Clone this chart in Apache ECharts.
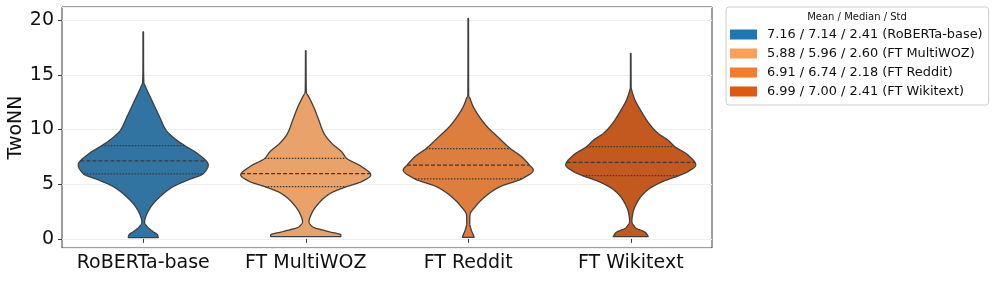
<!DOCTYPE html>
<html>
<head>
<meta charset="utf-8">
<script src="https://cdn.jsdelivr.net/npm/echarts@6/dist/echarts.min.js"></script>
<style>
html,body{margin:0;padding:0;background:#fff;}
#chart{width:996px;height:283px;}
</style>
</head>
<body>
<div id="chart"></div>
<script>
// ---- data ----
const categories = ['RoBERTa-base', 'FT MultiWOZ', 'FT Reddit', 'FT Wikitext'];
const legendNames = [
  '7.16 / 7.14 / 2.41 (RoBERTa-base)',
  '5.88 / 5.96 / 2.60 (FT MultiWOZ)',
  '6.91 / 6.74 / 2.18 (FT Reddit)',
  '6.99 / 7.00 / 2.41 (FT Wikitext)'
];
const legendTitle = 'Mean / Median / Std';
const yTicks = [0, 5, 10, 15, 20];

// violin density profiles (value on y, relative half width 0..1)
const robertaY = [0.12, 0.37, 0.67, 1.12, 1.55, 2.05, 2.96, 3.87, 4.78, 5.39, 5.95, 6.76, 7.82, 8.52, 9.19, 9.95, 11.17, 12.69, 13.91, 14.3, 15.5, 18.93];
const robertaW = [0.23, 0.22, 0.15, 0.06, 0.02, 0.04, 0.12, 0.26, 0.46, 0.69, 0.92, 1.0, 0.83, 0.64, 0.48, 0.35, 0.25, 0.13, 0.035, 0.01, 0.005, 0.004];
const multiwozY = [0.21, 0.37, 0.67, 1.13, 1.58, 2.34, 3.26, 4.17, 4.78, 5.24, 5.85, 6.61, 7.37, 7.98, 8.74, 9.65, 10.87, 12.09, 13.0, 13.46, 17.2];
const multiwozW = [0.54, 0.54, 0.35, 0.1, 0.05, 0.092, 0.2, 0.38, 0.63, 0.86, 1.0, 0.86, 0.63, 0.55, 0.4, 0.28, 0.2, 0.12, 0.046, 0.008, 0.004];
const redditY = [0.15, 0.37, 0.82, 1.43, 2.19, 2.96, 3.87, 4.78, 5.48, 6.30, 6.76, 7.52, 8.25, 9.35, 10.26, 11.18, 12.09, 12.85, 13.15, 20.15];
const redditW = [0.09, 0.077, 0.046, 0.023, 0.026, 0.11, 0.26, 0.49, 0.82, 1.0, 0.94, 0.82, 0.65, 0.45, 0.29, 0.17, 0.077, 0.026, 0.006, 0.004];
const wikitextY = [0.21, 0.57, 1.03, 1.64, 2.39, 3.56, 4.48, 5.24, 5.78, 6.15, 6.76, 7.67, 8.43, 9.04, 9.65, 10.56, 11.78, 12.69, 13.6, 13.9, 16.96];
const wikitextW = [0.27, 0.23, 0.072, 0.018, 0.034, 0.12, 0.26, 0.49, 0.74, 0.88, 1.0, 0.88, 0.68, 0.57, 0.42, 0.28, 0.15, 0.066, 0.015, 0.006, 0.004];

const q1Values = [5.94, 4.78, 5.48, 5.78];
const medianValues = [7.14, 5.96, 6.74, 7.00];
const q3Values = [8.52, 7.37, 8.25, 8.43];

// ---- styles ----
const legendColors = ['#1f77b4', '#fd9f57', '#f87b2a', '#df580e'];
const violinColors = ['#3274a1', '#e8a26a', '#dd7d3e', '#c3591f'];
const FONT = 'DejaVu Sans';

const profiles = [
  {y: robertaY, w: robertaW},
  {y: multiwozY, w: multiwozW},
  {y: redditY, w: redditW},
  {y: wikitextY, w: wikitextW}
];

function makeMonotone(xs, ys) {
  const n = xs.length, d = [], m = [];
  for (let k = 0; k < n - 1; k++) d[k] = (ys[k + 1] - ys[k]) / (xs[k + 1] - xs[k]);
  m[0] = d[0]; m[n - 1] = d[n - 2];
  for (let k = 1; k < n - 1; k++) {
    if (d[k - 1] * d[k] <= 0) { m[k] = 0; continue; }
    const h0 = xs[k] - xs[k - 1], h1 = xs[k + 1] - xs[k];
    m[k] = 3 * (h0 + h1) / ((2 * h1 + h0) / d[k - 1] + (h1 + 2 * h0) / d[k]);
  }
  return function (x) {
    if (x <= xs[0]) return ys[0];
    if (x >= xs[n - 1]) return ys[n - 1];
    let k = 0;
    while (k < n - 2 && x > xs[k + 1]) k++;
    const h = xs[k + 1] - xs[k], t = (x - xs[k]) / h;
    const t2 = t * t, t3 = t2 * t;
    return (2 * t3 - 3 * t2 + 1) * ys[k] + (t3 - 2 * t2 + t) * h * m[k] +
           (-2 * t3 + 3 * t2) * ys[k + 1] + (t3 - t2) * h * m[k + 1];
  };
}
const interps = profiles.map(p => makeMonotone(p.y, p.w));

function renderViolin(params, api) {
  const i = api.value(0);
  const prof = profiles[i];
  const f = interps[i];
  const band = api.size([1, 0])[0];
  const maxHalf = band * 0.4;
  const y0 = prof.y[0], y1 = prof.y[prof.y.length - 1];
  const steps = 600;
  const right = [], left = [];
  for (let s = 0; s <= steps; s++) {
    const v = y0 + (y1 - y0) * s / steps;
    const p = api.coord([i, v]);
    const hw = Math.max(f(v), 0.003) * maxHalf;
    right.push([p[0] + hw, p[1]]);
    left.push([p[0] - hw, p[1]]);
  }
  const pts = right.concat(left.reverse());
  const children = [{
    type: 'polygon',
    shape: {points: pts},
    style: {fill: violinColors[i], stroke: '#3f3f3f', lineWidth: 1.3, lineJoin: 'round'}
  }];
  const lines = [
    {v: q1Values[i], dash: [1.5, 1.5]},
    {v: medianValues[i], dash: [4, 2]},
    {v: q3Values[i], dash: [1.5, 1.5]}
  ];
  lines.forEach(l => {
    const p = api.coord([i, l.v]);
    const hw = f(l.v) * maxHalf;
    children.push({
      type: 'line',
      shape: {x1: p[0] - hw, y1: p[1], x2: p[0] + hw, y2: p[1]},
      style: {stroke: '#3a3a3a', lineWidth: 1.3, lineDash: l.dash}
    });
  });
  return {type: 'group', children: children};
}

const series = categories.map((c, i) => ({
  type: 'custom',
  name: legendNames[i],
  itemStyle: {color: legendColors[i]},
  renderItem: renderViolin,
  encode: {x: 0, y: 1},
  data: [[i, medianValues[i]]],
  z: 3
}));

const chart = echarts.init(document.getElementById('chart'), null, {renderer: 'canvas'});
chart.setOption({
  animation: false,
  backgroundColor: '#ffffff',
  textStyle: {fontFamily: FONT},
  grid: {left: 62, right: 284, top: 7, bottom: 35, containLabel: false, outerBoundsMode: 'none',
    show: true, borderColor: '#3c3c3c', borderWidth: 1, backgroundColor: '#ffffff'},
  xAxis: {
    type: 'category',
    data: categories,
    boundaryGap: true,
    axisLine: {show: false},
    axisTick: {show: true, alignWithLabel: true, interval: 0, length: 4, lineStyle: {color: '#3c3c3c'}},
    axisLabel: {fontSize: 19, color: '#111111', margin: 6, interval: 0, fontFamily: FONT},
    splitLine: {show: false}
  },
  yAxis: {
    type: 'value',
    min: -0.83,
    max: 21.2,
    splitNumber: 5,
    name: 'TwoNN',
    nameLocation: 'middle',
    nameGap: 36,
    nameMoveOverlap: false,
    nameTextStyle: {fontSize: 19, color: '#111111', fontFamily: FONT},
    axisLine: {show: false},
    axisTick: {show: true, length: 4, lineStyle: {color: '#3c3c3c'}},
    axisLabel: {fontSize: 19, color: '#111111', margin: 8, fontFamily: FONT, showMinLabel: false, showMaxLabel: false,
      formatter: v => (yTicks.indexOf(v) >= 0 ? String(v) : '')},
    splitLine: {show: true, lineStyle: {color: '#eeeeee', width: 1}}
  },
  legend: {
    orient: 'vertical',
    left: 726,
    top: 7,
    padding: [20, 6, 6, 4],
    itemWidth: 27,
    itemHeight: 10,
    itemGap: 4,
    icon: 'rect',
    selectedMode: false,
    borderColor: '#cccccc',
    borderWidth: 1,
    borderRadius: 3,
    textStyle: {fontSize: 12.9, lineHeight: 15, color: '#111111', fontFamily: FONT, padding: [0, 0, 0, 5]},
    data: legendNames
  },
  graphic: [{
    type: 'text',
    x: 857,
    y: 17,
    style: {text: legendTitle, fontSize: 10, fontFamily: FONT, fill: '#111111', textAlign: 'center', textVerticalAlign: 'middle'},
    z: 100
  }],
  series: series
});
</script>
</body>
</html>
